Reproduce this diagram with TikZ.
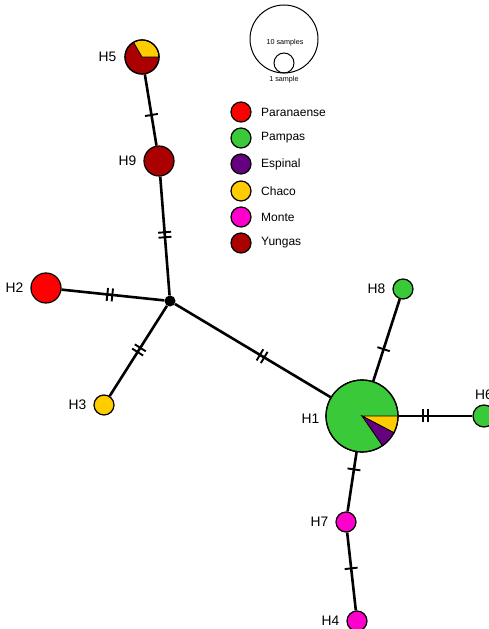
\documentclass[tikz,border=0pt]{standalone}
\usepackage{fontspec}
\setmainfont{Liberation Sans}
\usetikzlibrary{decorations.markings}
\pgfdeclarelayer{background}
\pgfsetlayers{background,main}
\definecolor{cPar}{HTML}{FF0000}
\definecolor{cPam}{HTML}{39C939}
\definecolor{cEsp}{HTML}{660080}
\definecolor{cCha}{HTML}{FFCC00}
\definecolor{cMon}{HTML}{FF00CC}
\definecolor{cYun}{HTML}{AA0000}
\begin{document}
\begin{tikzpicture}[x=1pt,y=1pt,
  hap/.style={circle, draw=black, line width=1.2pt, inner sep=0pt, minimum size=#1},
  lab/.style={font=\fontsize{13.8}{15}\selectfont, inner sep=0pt, label distance=7pt},
  edge/.style={line width=2.6pt},
  onetick/.style={postaction={decorate, decoration={markings, mark=at position #1 with {\draw[line width=1.9pt] (0,-6.5) -- (0,6.5);}}}},
  twotick/.style={postaction={decorate, decoration={markings, mark=at position #1 with {\draw[line width=1.9pt] (-2.5,-6.5) -- (-2.5,6.5) (2.5,-6.5) -- (2.5,6.5);}}}},
  legc/.style={circle, draw=black, line width=1.2pt, inner sep=0pt, minimum size=20},
  legt/.style={anchor=west, inner sep=0pt, font=\fontsize{12}{14}\selectfont},
  small/.style={inner sep=0pt, font=\fontsize{7.2}{8}\selectfont}
]
\useasboundingbox (0,0) rectangle (489,629);
\clip (0,0) rectangle (489,629);

% haplotype nodes
\node[circle, fill=black, inner sep=0pt, minimum size=11] (hub) at (170,328) {};
\node[hap=34, fill=cYun, label={[lab,label distance=8pt]left:H5}] (H5) at (142,572) {};
\node[hap=30, fill=cYun, label={[lab]left:H9}] (H9) at (159,468) {};
\node[hap=30, fill=cPar, label={[lab]left:H2}] (H2) at (46,341) {};
\node[hap=20, fill=cCha, label={[lab]left:H3}] (H3) at (104,224) {};
\node[hap=72, fill=cPam, label={[lab,label distance=6pt,yshift=-3pt]left:H1}] (H1) at (362,213) {};
\node[hap=22, fill=cPam, label={[lab,label distance=5pt]above:H6}] (H6) at (484,213) {};
\node[hap=20, fill=cPam, label={[lab]left:H8}] (H8) at (403,340) {};
\node[hap=20, fill=cMon, label={[lab]left:H7}] (H7) at (346,107) {};
\node[hap=20, fill=cMon, label={[lab]left:H4}] (H4) at (357,8) {};

% pie slices
\filldraw[fill=cCha, draw=black, line width=0.8pt] (H5.center) -- ++(0:17) arc[start angle=0, end angle=120, radius=17] -- cycle;
\draw[line width=1.2pt] (H5.center) circle[radius=17];
\filldraw[fill=cCha, draw=black, line width=0.8pt] (H1.center) -- ++(0:36) arc[start angle=0, end angle=-27.7, radius=36] -- cycle;
\filldraw[fill=cEsp, draw=black, line width=0.8pt] (H1.center) -- ++(-27.7:36) arc[start angle=-27.7, end angle=-55.4, radius=36] -- cycle;
\draw[line width=1.2pt] (H1.center) circle[radius=36];

% connectors
\begin{pgfonlayer}{background}
\draw[edge, twotick=0.51] (hub) -- (H9);
\draw[edge, onetick=0.43] (H9) -- (H5);
\draw[edge, twotick=0.53] (hub) -- (H2);
\draw[edge, twotick=0.49] (hub) -- (H3);
\draw[edge, twotick=0.56] (hub) -- (H1);
\draw[edge, twotick=0.36] (H1) -- (H6);
\draw[edge, onetick=0.39] (H1) -- (H8);
\draw[edge, onetick=0.29] (H1) -- (H7);
\draw[edge, onetick=0.46] (H7) -- (H4);
\end{pgfonlayer}

% size legend
\node[circle, draw=black, line width=1pt, inner sep=0pt, minimum size=68] (big) at (284,590) {};
\node[circle, draw=black, line width=1pt, inner sep=0pt, minimum size=20] (one) at (284,566) {};
\node[small] (t10) at (285,586) {10 samples};
\node[small] (t1) at (284,549) {1 sample};

% colour legend
\node[legc, fill=cPar] (l1) at (241,517) {};
\node[legc, fill=cPam] (l2) at (241,491) {};
\node[legc, fill=cEsp] (l3) at (241,465) {};
\node[legc, fill=cCha] (l4) at (241,438) {};
\node[legc, fill=cMon] (l5) at (241,412) {};
\node[legc, fill=cYun] (l6) at (241,386) {};
\node[legt] at (261,517) {Paranaense};
\node[legt] at (261,491) {Pampas};
\node[legt] at (261,465) {Espinal};
\node[legt] at (261,438) {Chaco};
\node[legt] at (261,412) {Monte};
\node[legt] at (261,386) {Yungas};
\end{tikzpicture}
\end{document}
